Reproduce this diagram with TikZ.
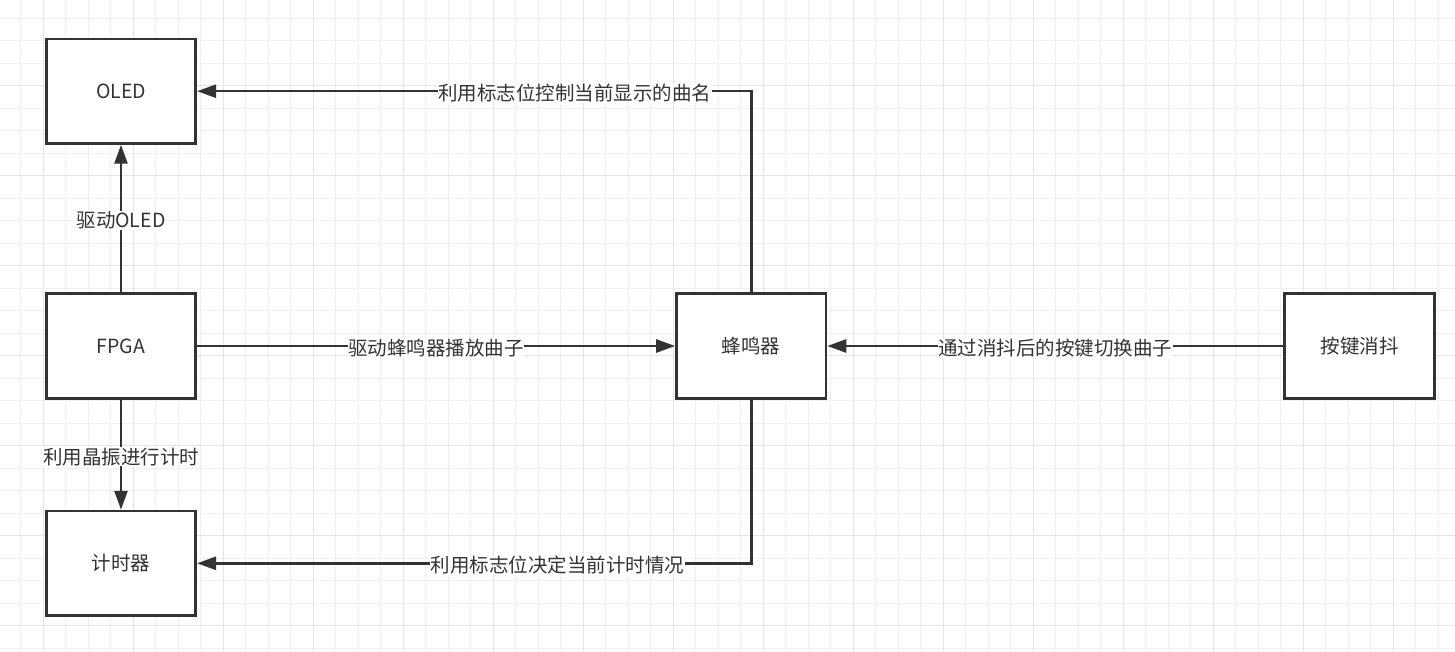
\documentclass[tikz,border=0pt]{standalone}
\usepackage{fontspec}
\setmainfont{Noto Sans CJK SC}
\usetikzlibrary{arrows.meta}
\definecolor{ink}{HTML}{333333}
\definecolor{gminor}{HTML}{F0F0F0}
\definecolor{gmajor}{HTML}{E4E4E4}
\tikzset{
  blk/.style={draw=ink, line width=2.6pt, fill=white, minimum width=149.5pt, minimum height=104.5pt, inner sep=0pt, text=ink, font=\fontsize{19.5pt}{22pt}\selectfont},
  conn/.style={draw=ink, line width=2.6pt, -{Triangle[length=19pt,width=13pt]}},
  lbl/.style={fill=white, text=ink, inner sep=0.5pt, yshift=-2pt, font=\fontsize{19.5pt}{22pt}\selectfont},
  gminorline/.style={draw=gminor, line width=1pt},
  gmajorline/.style={draw=gmajor, line width=1pt}
}
\begin{document}
\begin{tikzpicture}[x=1pt,y=-1pt]
\useasboundingbox (0,0) rectangle (1455,652);
\fill[white] (0,0) rectangle (1455,652);
% grid
\foreach \i in {0,...,65} \draw[gminorline] ({-1.7+22.5*\i},0) -- ++(0,652);
\foreach \j in {0,...,28} \draw[gminorline] (0,{18.2+22.5*\j}) -- ++(1455,0);
\foreach \i in {0,...,16} \draw[gmajorline] ({43.3+90*\i},0) -- ++(0,652);
\foreach \j in {0,...,6} \draw[gmajorline] (0,{85.7+90*\j}) -- ++(1455,0);
% nodes
\node[blk] (oled) at (121,91.2) {OLED};
\node[blk] (fpga) at (121,346) {FPGA};
\node[blk] (timer) at (121,563.3) {计时器};
\node[blk] (bz) at (751.2,346) {蜂鸣器};
\node[blk] (key) at (1359.5,346) {按键消抖};
% connectors
\draw[conn] (fpga) -- node[lbl]{驱动OLED} (oled);
\draw[conn] (fpga) -- node[lbl]{利用晶振进行计时} (timer);
\draw[conn] (fpga) -- node[lbl]{驱动蜂鸣器播放曲子} (bz);
\draw[conn] (key) -- node[lbl]{通过消抖后的按键切换曲子} (bz);
\draw[conn] (bz.north) |- node[lbl,pos=0.659]{利用标志位控制当前显示的曲名} (oled.east);
\draw[conn] (bz.south) |- node[lbl,pos=0.675]{利用标志位决定当前计时情况} (timer.east);
\end{tikzpicture}
\end{document}
